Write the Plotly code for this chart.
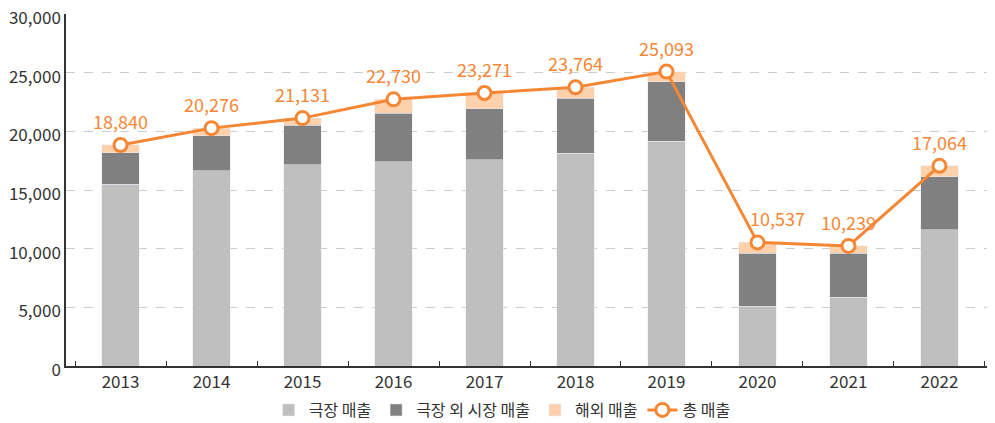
import plotly.graph_objects as go

years = ['2013', '2014', '2015', '2016', '2017', '2018', '2019', '2020', '2021', '2022']
theater = [15513, 16641, 17154, 17432, 17566, 18140, 19140, 5104, 5845, 11602]
non_theater = [2676, 2971, 3365, 4125, 4362, 4687, 5093, 4527, 3755, 4514]
overseas = [651, 664, 612, 1173, 1343, 937, 860, 906, 639, 948]
total = [18840, 20276, 21131, 22730, 23271, 23764, 25093, 10537, 10239, 17064]

ORANGE = '#F58634'
FONT = 'Noto Sans CJK KR'

fig = go.Figure()
fig.add_trace(go.Bar(name='극장 매출', x=years, y=theater, marker_color='#BFBFBF'))
fig.add_trace(go.Bar(name='극장 외 시장 매출', x=years, y=non_theater, marker_color='#808080'))
fig.add_trace(go.Bar(name='해외 매출', x=years, y=overseas, marker_color='#FDD1AC'))
fig.add_trace(go.Scatter(
    name='총 매출', x=years, y=total, mode='lines+markers',
    line=dict(color=ORANGE, width=3),
    marker=dict(size=13, color='white', line=dict(color=ORANGE, width=3)),
))

# 총 매출 라벨 (카테고리 축이라 x는 순번으로)
for i, v in enumerate(total):
    fig.add_annotation(
        x=i, y=v, text=f'{v:,}', showarrow=False,
        yshift=24, xshift=20 if years[i] == '2020' else 0,
        font=dict(color=ORANGE, size=18, family=FONT),
    )

# 브라우저 body 여백(8px) 감안
fig.update_layout(
    width=987, height=415,
    margin=dict(l=58, r=1, t=6, b=57, autoexpand=False),
    barmode='stack', bargap=0.59,
    plot_bgcolor='white', paper_bgcolor='white',
    font=dict(family=FONT, color='#333333'),
    legend=dict(orientation='h', x=0.47, xanchor='center', y=-0.125, yanchor='middle',
                font=dict(size=16, color='#333333'), traceorder='normal'),
    showlegend=True,
)
fig.update_xaxes(
    type='category', showline=True, linecolor='#333333', linewidth=1.5,
    ticks='inside', tickson='boundaries', ticklen=5, tickcolor='#333333',
    tickfont=dict(size=17, color='#333333'), tickangle=0, automargin=False,
)
fig.update_yaxes(
    range=[0, 30005], tickvals=[0, 5000, 10000, 15000, 20000, 25000, 30000], tickformat=',',
    showline=True, linecolor='#333333', linewidth=1.5,
    showgrid=True, gridcolor='#CCCCCC', griddash='dash', gridwidth=1,
    tickfont=dict(size=17, color='#333333'), ticks='', zeroline=False, automargin=False,
    ticklabeloverflow='allow', ticklabelshift=4,
)

fig.write_html('out.html')
